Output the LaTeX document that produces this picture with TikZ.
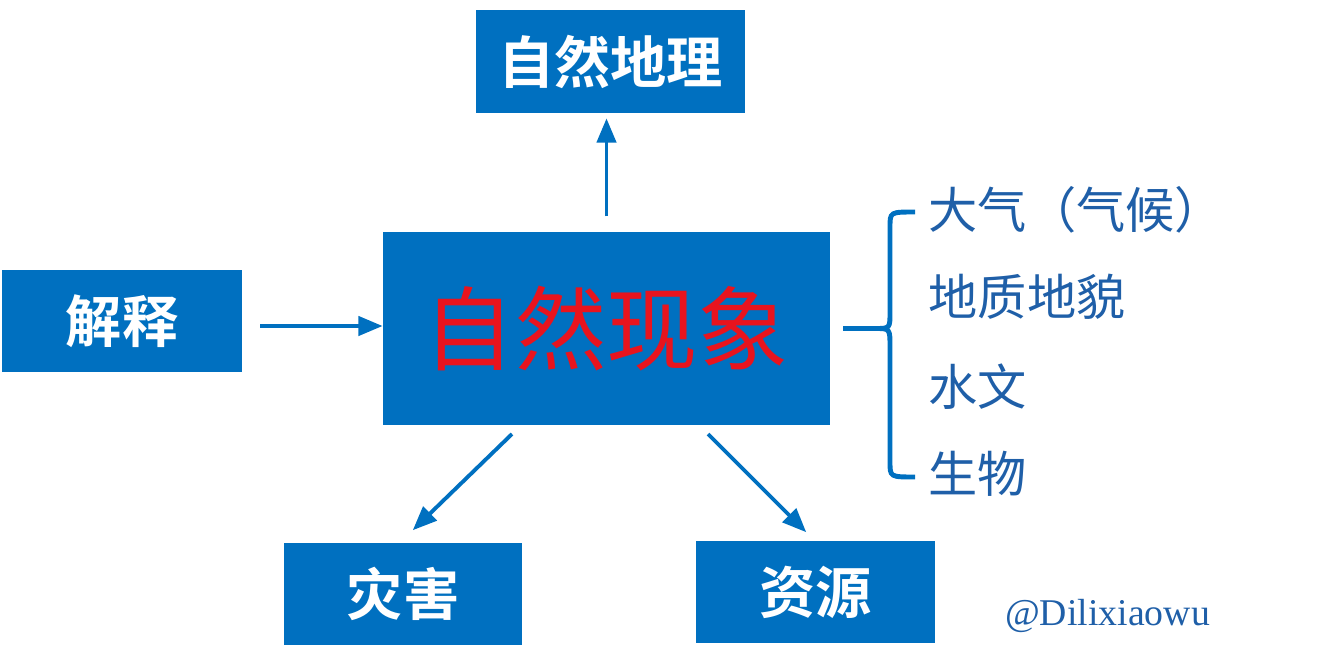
\documentclass[tikz,border=0pt]{standalone}
\usepackage{fontspec}
\setmainfont{Liberation Serif}
\newfontfamily\cjk{Noto Sans CJK SC}
\newfontfamily\cjkb{Noto Sans CJK SC Bold}
\usetikzlibrary{arrows}
\definecolor{boxblue}{HTML}{0070C0}
\definecolor{txtblue}{HTML}{1F5FA8}
\definecolor{hotred}{HTML}{E8141E}

\begin{document}
\begin{tikzpicture}[>=triangle 45,thick,
  blue box/.style={fill=boxblue,text=white,inner sep=0pt,font=\cjkb\fontsize{32}{34}\selectfont},
  flow/.style={->,draw=boxblue,line width=2.2pt},
  item/.style={anchor=west,text=txtblue,inner sep=0pt,font=\cjk\fontsize{28}{30}\selectfont}]

  \useasboundingbox (0,0) rectangle (26.74,13.24);

  \node[blue box,minimum width=8.94cm,minimum height=3.86cm,text=hotred,
        font=\cjk\fontsize{52}{54}\selectfont] (core) at (12.13,6.67) {自然现象};
  \node[blue box,minimum width=5.38cm,minimum height=2.06cm] (geo) at (12.21,12.01) {自然地理};
  \node[blue box,minimum width=4.8cm,minimum height=2.04cm] (why) at (2.44,6.82) {解释};
  \node[blue box,minimum width=4.76cm,minimum height=2.04cm] (harm) at (8.06,1.36) {灾害};
  \node[blue box,minimum width=4.78cm,minimum height=2.04cm] (res) at (16.31,1.40) {资源};

  \coordinate (c1) at (10.24,4.56);
  \coordinate (c2) at (14.16,4.56);
  \coordinate (h1) at (8.26,2.64);
  \coordinate (r1) at (16.12,2.60);
  \coordinate (w1) at (5.2,6.72);

  \draw[flow,shorten <=0.3cm,shorten >=0.1cm] (core.north) -- (core.north |- geo.south);
  \draw[flow] (w1) -- (w1 -| core.west);
  \draw[flow] (c1) -- (h1);
  \draw[flow] (c2) -- (r1);

  % brace
  \draw[boxblue,line width=2.8pt] (16.86,6.67) -- (17.5,6.67)
    .. controls (17.8,6.67) .. (17.8,7.0) -- (17.8,8.7)
    .. controls (17.8,9.0) .. (18.3,9.0);
  \draw[boxblue,line width=2.8pt] (17.5,6.67)
    .. controls (17.8,6.67) .. (17.8,6.3) -- (17.8,4.0)
    .. controls (17.8,3.7) .. (18.3,3.7);

  \node[item] (air) at (18.56,9.04) {大气（气候）};
  \node[item] (land) at (18.56,7.30) {地质地貌};
  \node[item] (water) at (18.56,5.50) {水文};
  \node[item] (life) at (18.56,3.76) {生物};

  \node[text=txtblue,font=\fontsize{21.5}{23}\selectfont] (tag) at (22.15,0.92) {@Dilixiaowu};
\end{tikzpicture}
\end{document}
